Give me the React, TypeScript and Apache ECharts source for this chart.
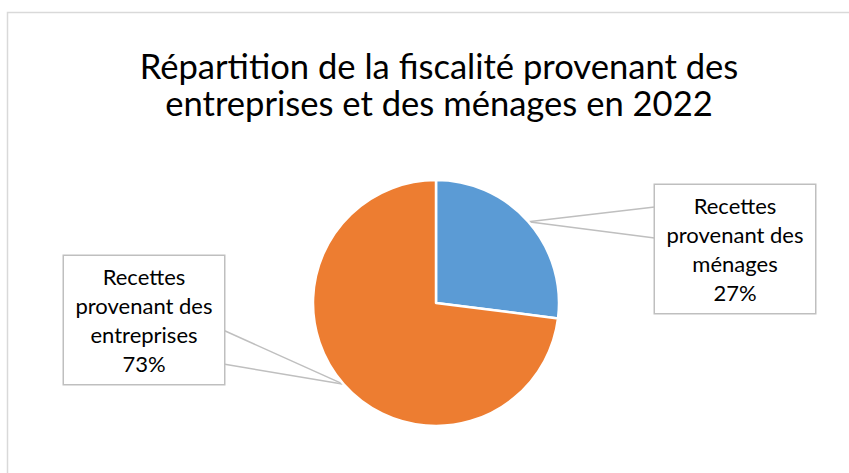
import React, { useEffect, useRef } from "react";
import * as echarts from "echarts";

const titleLines = ["Répartition de la fiscalité provenant des", "entreprises et des ménages en 2022"];
const categories = ["Recettes\nprovenant des\nménages", "Recettes\nprovenant des\nentreprises"];
const shares = [27, 73];
const colors = ["#5b9bd5", "#ed7d31"];
const labelCenters = [
  [735, 249],
  [144, 320],
];
const pointerTop = [
  [655, 207],
  [223, 329],
];
const pointerBottom = [
  [655, 238],
  [223, 364],
];

const center = [436, 303];
const radius = 123;

function pointerSeries(anchors: number[][]) {
  return {
    type: "pie",
    center,
    radius,
    startAngle: 90,
    clockwise: true,
    silent: true,
    avoidLabelOverlap: false,
    z: 1,
    itemStyle: { color: "transparent", borderWidth: 0 },
    data: categories.map((name, i) => ({ name, value: shares[i] })),
    label: {
      show: true,
      formatter: () => "·",
      fontSize: 2,
      color: "transparent",
      padding: 0,
    },
    labelLine: {
      show: true,
      length2: 0,
      smooth: false,
      minTurnAngle: 0,
      lineStyle: { color: "#bfbfbf", width: 1.5 },
    },
    labelLayout: (params: any) => {
      const c = anchors[params.dataIndex];
      return { x: c[0], y: c[1], align: "center", verticalAlign: "middle" };
    },
  };
}

export default function App() {
  const ref = useRef<HTMLDivElement>(null);
  useEffect(() => {
    if (!ref.current) return;
    const chart = echarts.init(ref.current, null, { renderer: "svg" });
    chart.setOption({
      animation: false,
      backgroundColor: "#ffffff",
      graphic: [
        {
          type: "rect",
          shape: { x: 7.5, y: 12.5, width: 900, height: 500 },
          style: { fill: "none", stroke: "#d9d9d9", lineWidth: 1.5 },
          silent: true,
          z: -10,
        },
      ],
      title: {
        text: titleLines.join("\n"),
        left: 434,
        top: 42,
        textAlign: "center",
        textStyle: {
          fontFamily: "Lato",
          fontWeight: "normal",
          fontSize: 34.6,
          lineHeight: 37,
          color: "#000000",
        },
      },
      series: [
        pointerSeries(pointerTop),
        pointerSeries(pointerBottom),
        {
          type: "pie",
          center,
          radius,
          startAngle: 90,
          clockwise: true,
          avoidLabelOverlap: false,
          z: 3,
          itemStyle: { borderColor: "#ffffff", borderWidth: 2.5 },
          data: categories.map((name, i) => ({
            name,
            value: shares[i],
            itemStyle: { color: colors[i] },
          })),
          label: {
            show: true,
            formatter: (p: any) => `${p.name}\n${p.value}%`,
            fontFamily: "Lato",
            fontSize: 22,
            lineHeight: 29,
            color: "#000000",
            align: "center",
            backgroundColor: "#ffffff",
            borderColor: "#bfbfbf",
            borderWidth: 1.5,
            width: 142,
            padding: [6, 9, 6, 9],
          },
          labelLine: { show: false },
          labelLayout: (params: any) => {
            const c = labelCenters[params.dataIndex];
            return {
              x: c[0],
              y: c[1],
              align: "center",
              verticalAlign: "middle",
            };
          },
        },
      ],
    });
    return () => chart.dispose();
  }, []);
  return (
    <div
      ref={ref}
      style={{ position: "fixed", left: 0, top: 0, width: 849, height: 473 }}
    />
  );
}
